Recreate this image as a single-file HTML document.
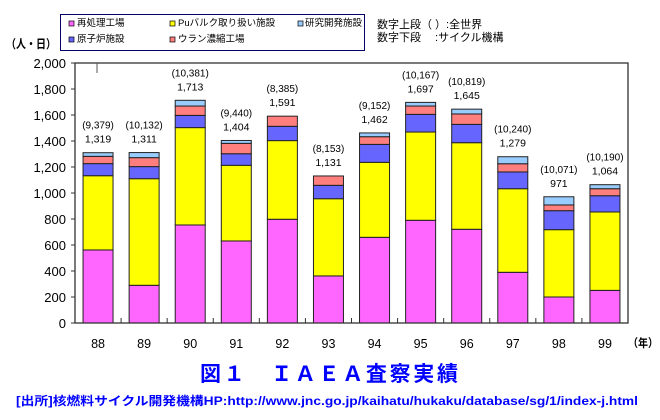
<!DOCTYPE html>
<html><head><meta charset="utf-8"><style>
body{margin:0;background:#fff;}
svg{display:block;font-family:"Liberation Sans","Noto Sans CJK JP",sans-serif;}
</style></head><body>
<svg id="chart" width="660" height="420" viewBox="0 0 660 420">
<g>
<rect x="60.5" y="14.5" width="304" height="36" fill="#fff" stroke="#000066" stroke-width="1"/>
<rect x="69" y="21" width="5" height="5" fill="#FF66FF" stroke="#000" stroke-width="0.7"/><text x="77" y="26" font-size="9.5">再処理工場</text>
<rect x="170" y="21" width="5" height="5" fill="#FFFF00" stroke="#000" stroke-width="0.7"/><text x="178" y="26" font-size="9.5">Puバルク取り扱い施設</text>
<rect x="298" y="21" width="5" height="5" fill="#99CCFF" stroke="#000" stroke-width="0.7"/><text x="305" y="26" font-size="9.5">研究開発施設</text>
<rect x="69" y="37" width="5" height="5" fill="#6666FF" stroke="#000" stroke-width="0.7"/><text x="77" y="42" font-size="9.5">原子炉施設</text>
<rect x="170" y="37" width="5" height="5" fill="#FF7F7F" stroke="#000" stroke-width="0.7"/><text x="178" y="42" font-size="9.5">ウラン濃縮工場</text>
</g>
<text x="377" y="28" font-size="11">数字上段（ ）:全世界</text>
<text x="377" y="41" font-size="11">数字下段　 :サイクル機構</text>
<text x="6" y="48" font-size="12" font-weight="bold" textLength="50" lengthAdjust="spacingAndGlyphs">（人・日）</text>
<g id="plot"></g>
<text x="628" y="347" font-size="11.5" font-weight="bold" textLength="30" lengthAdjust="spacingAndGlyphs">（年）</text>
<text x="200" y="381" font-size="21" font-weight="bold" fill="#0000FF" textLength="258" lengthAdjust="spacing">図１　ＩＡＥＡ査察実績</text>
<text x="16" y="405" font-size="12" font-weight="bold" fill="#0000FF" textLength="622" lengthAdjust="spacingAndGlyphs">[出所]核燃料サイクル開発機構HP:http://www.jnc.go.jp/kaihatu/hukaku/database/sg/1/index-j.html</text>
</svg>
<script>
const years=["88","89","90","91","92","93","94","95","96","97","98","99"];
const reprocessing=[562,290,754,631,798,362,659,790,721,390,200,251];
const puBulk=[571,820,749,582,605,594,577,679,666,643,518,603];
const reactor=[93,93,94,89,110,103,138,136,141,129,146,125];
const uranium=[56,69,72,80,78,72,59,64,80,63,44,54];
const research=[28,39,44,22,0,0,29,28,37,54,63,31];
const worldTotals=["(9,379)","(10,132)","(10,381)","(9,440)","(8,385)","(8,153)","(9,152)","(10,167)","(10,819)","(10,240)","(10,071)","(10,190)"];
const jncTotals=["1,319","1,311","1,713","1,404","1,591","1,131","1,462","1,697","1,645","1,279","971","1,064"];
const yTicks=[0,200,400,600,800,1000,1200,1400,1600,1800,2000];
const yTickLabels=["0","200","400","600","800","1,000","1,200","1,400","1,600","1,800","2,000"];

const NS="http://www.w3.org/2000/svg";
const g=document.getElementById('plot');
const X0=75,X1=628,Y0=323,Y1=63,YMAX=2000;
const band=(X1-X0)/years.length, bw=30;
const y=v=>Y0-(v/YMAX)*(Y0-Y1);
const xc=i=>X0+band*(i+0.5);
function mk(tag,attrs){const e=document.createElementNS(NS,tag);for(const k in attrs)e.setAttribute(k,attrs[k]);g.appendChild(e);return e;}

yTicks.forEach((t,i)=>{
  const l=mk('line',{x1:X0-4,x2:X0,y1:y(t),y2:y(t),stroke:'#333'});
  
  
  const tx=mk('text',{x:X0-9,y:y(t)+5,'font-size':13,'text-anchor':'end'});
  tx.textContent=yTickLabels[i];
  
  
});
const series=[[reprocessing,'#FF66FF','reprocessing'],[puBulk,'#FFFF00','pu-bulk'],[reactor,'#6666FF','reactor'],[uranium,'#FF7F7F','uranium-enrichment'],[research,'#99CCFF','research']];
years.forEach((yr,i)=>{
  let acc=0;
  series.forEach(([arr,col,nm])=>{
    const v=arr[i]; if(v<=0)return;
    const r=mk('rect',{x:xc(i)-bw/2,y:y(acc+v),width:bw,height:y(acc)-y(acc+v),fill:col,stroke:'#222','stroke-width':1});
    
    
    acc+=v;
  });
  const top=y(acc);
  const a=mk('text',{x:xc(i),y:top-24,'font-size':10,'text-anchor':'middle'});
  a.textContent=worldTotals[i];
  
  
  const b=mk('text',{x:xc(i),y:top-10,'font-size':10.5,'text-anchor':'middle'});
  b.textContent=jncTotals[i];
  
  
  const xl=mk('text',{x:xc(i),y:348,'font-size':12.5,'text-anchor':'middle'});
  xl.textContent=yr;
  
  
  if(i>0){const tk=mk('line',{x1:X0+band*i,x2:X0+band*i,y1:Y0,y2:Y0-5,stroke:'#333'});
  
  }
});
const fr=mk('rect',{x:X0,y:Y1,width:X1-X0,height:Y0-Y1,fill:'none',stroke:'#333','stroke-width':1.3});


const mark=mk('line',{x1:97,x2:97,y1:Y1,y2:Y1+10,stroke:'#555'});


</script>
</body></html>
